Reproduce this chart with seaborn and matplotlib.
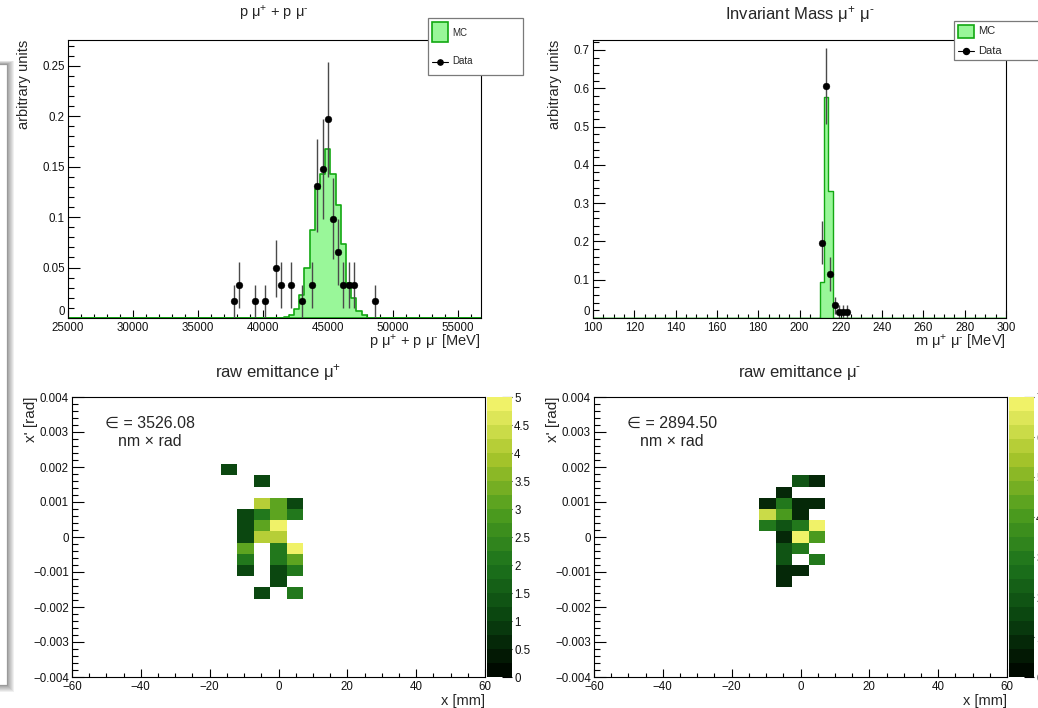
import numpy as np
import pandas as pd
import matplotlib
matplotlib.use("Agg")
import matplotlib.pyplot as plt
import seaborn as sns
from matplotlib.colors import LinearSegmentedColormap, ListedColormap
from matplotlib.patches import Rectangle
from matplotlib.lines import Line2D
from matplotlib.ticker import MultipleLocator, FuncFormatter

# ---------------- data ----------------
n_events = 61

# p mu+ + p mu-  (MeV), MC normalised histogram (bin centres, 400 MeV bins)
p_mc_centers = [41800, 42200, 42600, 43000, 43400, 43800, 44200, 44600, 45000,
                45400, 45800, 46200, 46600, 47000, 47400, 47800]
p_mc_values = [0.001, 0.0033, 0.0089, 0.023, 0.0495, 0.0874, 0.128, 0.143, 0.1676,
               0.143, 0.112, 0.0736, 0.0346, 0.0198, 0.0065, 0.0026]
# data: bin centres and event counts
p_data_centers = [37800, 38200, 39400, 40200, 41000, 41400, 42200, 43000, 43800,
                  44200, 44600, 45000, 45400, 45800, 46200, 46600, 47000, 48600]
p_data_counts = [1, 2, 1, 1, 3, 2, 2, 1, 2, 8, 9, 12, 6, 4, 2, 2, 2, 1]

# invariant mass (MeV), 2 MeV bins
m_mc_centers = [211, 213, 215]
m_mc_values = [0.093, 0.576, 0.331]
m_data_centers = [211, 213, 215, 217, 219, 221, 223]
m_data_counts = [12, 37, 7, 2, 1, 1, 1]

# raw emittance mu+ : cell centres (x [mm], x' [rad]) and counts
emit_plus_x = [-14.4, -4.8, -4.8, 0.0, 4.8, -9.6, -4.8, 0.0, 4.8, -9.6, -4.8, 0.0,
               -9.6, -4.8, 0.0, -9.6, 0.0, 4.8, -9.6, 0.0, 4.8, -9.6, 0.0, 4.8,
               0.0, -4.8, 4.8]
emit_plus_xp = [0.00192, 0.0016, 0.00096, 0.00096, 0.00096, 0.00064, 0.00064, 0.00064,
                0.00064, 0.00032, 0.00032, 0.00032, 0.0, 0.0, 0.0, -0.00032, -0.00032,
                -0.00032, -0.00064, -0.00064, -0.00064, -0.00096, -0.00096, -0.00096,
                -0.00128, -0.0016, -0.0016]
emit_plus_counts = [1, 1, 4, 3, 1, 1, 2, 3, 2, 1, 3, 5, 1, 4, 4, 3, 2, 5, 2, 2, 3,
                    1, 1, 2, 1, 1, 2]

# raw emittance mu-
emit_minus_x = [0.0, 4.8, -4.8, -9.6, -4.8, 0.0, 4.8, -9.6, -4.8, 0.0, -9.6, -4.8,
                0.0, 4.8, -4.8, 0.0, 4.8, -4.8, 0.0, -4.8, 4.8, -4.8, 0.0, -4.8]
emit_minus_xp = [0.0016, 0.0016, 0.00128, 0.00096, 0.00096, 0.00096, 0.00096,
                 0.00064, 0.00064, 0.00064, 0.00032, 0.00032, 0.00032, 0.00032,
                 0.0, 0.0, 0.0, -0.00032, -0.00032, -0.00064, -0.00064, -0.00096,
                 -0.00096, -0.00128]
emit_minus_counts = [2, 1, 1, 1, 3, 1, 1, 6, 4, 1, 3, 2, 3, 7, 1, 7, 4, 2, 3, 2, 3,
                     1, 1, 1]

emit_plus_value = "3526.08"
emit_minus_value = "2894.50"

# ---------------- style ----------------
sns.set_theme(style="ticks")
plt.rcParams["font.family"] = ["Liberation Sans", "DejaVu Sans"]
plt.rcParams["mathtext.fontset"] = "custom"
plt.rcParams["mathtext.rm"] = "Liberation Sans"
plt.rcParams["mathtext.it"] = "Liberation Sans:italic"
plt.rcParams["mathtext.bf"] = "Liberation Sans:bold"
plt.rcParams["mathtext.fallback"] = "stixsans"
plt.rcParams["axes.unicode_minus"] = True

MC_FILL = "#99f799"
MC_LINE = "#12a812"
W, H = 1038, 708
MUP = "μ$^{+}$"
MUM = "μ$^{\u2010}$"
TICK_FS = 8.3

fig = plt.figure(figsize=(W / 100, H / 100), dpi=100)
fig.patch.set_facecolor("white")


def rect(x0, y0, x1, y1):
    return [x0 / W, 1 - y1 / H, (x1 - x0) / W, (y1 - y0) / H]


def fx(px):
    return px / W


def fy(py):
    return 1 - py / H


def fmt(v, pos):
    if abs(v) < 1e-12:
        return "0"
    return f"{v:g}".replace("-", "\u2212")


def fmt_nozero(v, pos):
    if abs(v) < 1e-12:
        return ""
    return fmt(v, pos)


def root_axes(ax, w_px, h_px, xmaj, xmin, ymaj, ymin, raised_zero=False):
    ax.set_facecolor("white")
    ax.xaxis.set_major_locator(MultipleLocator(xmaj))
    ax.xaxis.set_minor_locator(MultipleLocator(xmin))
    ax.yaxis.set_major_locator(MultipleLocator(ymaj))
    ax.yaxis.set_minor_locator(MultipleLocator(ymin))
    ax.xaxis.set_major_formatter(FuncFormatter(fmt))
    ax.yaxis.set_major_formatter(FuncFormatter(fmt_nozero if raised_zero else fmt))
    ax.tick_params(which="both", direction="in", top=False, right=False,
                   color="black", width=0.8, labelsize=TICK_FS, labelcolor="#111111")
    ax.tick_params(axis="y", which="major", length=0.03 * w_px * 0.72, pad=2.2)
    ax.tick_params(axis="y", which="minor", length=0.015 * w_px * 0.72)
    ax.tick_params(axis="x", which="major", length=0.03 * h_px * 0.72, pad=3)
    ax.tick_params(axis="x", which="minor", length=0.015 * h_px * 0.72)
    for s in ax.spines.values():
        s.set_visible(True)
        s.set_color("black")
        s.set_linewidth(0.8)
    ax.grid(False)
    if raised_zero:
        # ROOT draws the "0" of the y axis slightly raised at the frame corner
        ax.annotate("0", xy=(0, 0), xycoords="axes fraction", xytext=(-2.2, 0.2),
                    textcoords="offset points", ha="right", va="bottom",
                    fontsize=TICK_FS, color="#111111")


def labels(ax, xlabel, ylabel, ylab_x_px, ax_x0, w_px, h_px, xfs, yfs):
    ax.set_xlabel(xlabel, fontsize=xfs)
    ax.xaxis.set_label_coords(1.0, -24 / h_px)
    ax.xaxis.label.set_ha("right")
    ax.xaxis.label.set_va("center")
    ax.set_ylabel(ylabel, fontsize=yfs)
    ax.yaxis.set_label_coords((ylab_x_px - ax_x0) / w_px, 1.0)
    ax.yaxis.label.set_rotation_mode("default")
    ax.yaxis.label.set_va("top")
    ax.yaxis.label.set_ha("center")


# ---------------- left-edge window artifact ----------------
for k in range(7, 0, -1):
    fig.add_artist(Rectangle((fx(-20), fy(685 + k)), (27 + k) / W, (621 + 1.5 * k) / H,
                             transform=fig.transFigure, facecolor="black",
                             edgecolor="none", alpha=0.06, zorder=0.1))
fig.add_artist(Rectangle((fx(-20), fy(685)), 27 / W, 621 / H, transform=fig.transFigure,
                         facecolor="white", edgecolor="#9a9a9a", linewidth=0.9, zorder=0.2))

# ---------------- top-left: momentum sum ----------------
ax1 = fig.add_axes(rect(68, 40, 481, 318))
p_edges = [float(e) for e in np.arange(24800, 56801, 400)]
df_pmc = pd.DataFrame({"p": p_mc_centers, "w": p_mc_values})
sns.histplot(data=df_pmc, x="p", weights="w", bins=p_edges, element="step", fill=True,
             facecolor=MC_FILL, edgecolor=MC_LINE, linewidth=1.2, ax=ax1)
p_vals = np.array(p_data_counts) / n_events
p_err = np.sqrt(p_data_counts) / n_events
ax1.errorbar(p_data_centers, p_vals, yerr=p_err, fmt="none", ecolor="#4a4a4a",
             elinewidth=1.0, capsize=0, zorder=3)
sns.scatterplot(x=p_data_centers, y=p_vals, color="black", s=24, edgecolor="black",
                linewidth=0.3, ax=ax1, zorder=4, legend=False)
ax1.set_xlim(25000, 56800)
ax1.set_ylim(0, 0.2755)
root_axes(ax1, 413, 278, 5000, 1000, 0.05, 0.01, raised_zero=True)
labels(ax1, f"p {MUP} + p {MUM} [MeV]", "arbitrary units", 24, 68, 413, 278, 10.5, 10.5)

# ---------------- top-right: invariant mass ----------------
ax2 = fig.add_axes(rect(593, 40, 1006, 318))
m_edges = [float(e) for e in np.arange(100, 301, 2)]
df_mmc = pd.DataFrame({"m": m_mc_centers, "w": m_mc_values})
sns.histplot(data=df_mmc, x="m", weights="w", bins=m_edges, element="step", fill=True,
             facecolor=MC_FILL, edgecolor=MC_LINE, linewidth=1.0, ax=ax2)
m_vals = np.array(m_data_counts) / n_events
m_err = np.sqrt(m_data_counts) / n_events
ax2.errorbar(m_data_centers, m_vals, yerr=m_err, fmt="none", ecolor="#4a4a4a",
             elinewidth=1.0, capsize=0, zorder=3)
sns.scatterplot(x=m_data_centers, y=m_vals, color="black", s=24, edgecolor="black",
                linewidth=0.3, ax=ax2, zorder=4, legend=False)
ax2.set_xlim(100, 300)
ax2.set_ylim(0, 0.726)
root_axes(ax2, 413, 278, 20, 5, 0.1, 0.02, raised_zero=True)
labels(ax2, f"m {MUP} {MUM} [MeV]", "arbitrary units", 555, 593, 413, 278, 10.5, 10.5)

# ---------------- emittance colour map ----------------
base = LinearSegmentedColormap.from_list(
    "avocado", ["#000a00", "#0a4510", "#1d741c", "#4f9e1e", "#a6c42a", "#f0f268"],
    N=256)
root_cmap = ListedColormap([base(i / 19) for i in range(20)])


def emittance(ax, cax, xs, xps, ns, vmax, cticks):
    df = pd.DataFrame({"x": xs, "xp": xps, "n": ns})
    sns.histplot(data=df, x="x", y="xp", weights="n", bins=25,
                 binrange=((-60, 60), (-0.004, 0.004)), cmap=root_cmap,
                 vmin=0, vmax=vmax, cbar=True, cbar_ax=cax,
                 cbar_kws={"ticks": cticks}, ax=ax)
    ax.set_xlim(-60, 60)
    ax.set_ylim(-0.004, 0.004)
    root_axes(ax, 413, 280, 20, 5, 0.001, 0.0002)
    cax.yaxis.set_ticks_position("right")
    cax.tick_params(axis="y", which="major", direction="in", length=7, width=0.8,
                    color="black", labelsize=TICK_FS, pad=1.5, labelcolor="#111111")
    cax.tick_params(axis="y", which="minor", length=0)
    cax.yaxis.set_major_formatter(FuncFormatter(fmt))
    for s in cax.spines.values():
        s.set_visible(False)


ax3 = fig.add_axes(rect(72, 397, 485, 677))
cax3 = fig.add_axes(rect(487, 397, 512, 677))
emittance(ax3, cax3, emit_plus_x, emit_plus_xp, emit_plus_counts, 5,
          [0, 0.5, 1, 1.5, 2, 2.5, 3, 3.5, 4, 4.5, 5])
labels(ax3, "x [mm]", "x' [rad]", 31, 72, 413, 280, 10.5, 11)

ax4 = fig.add_axes(rect(594, 397, 1007, 677))
cax4 = fig.add_axes(rect(1009, 397, 1034, 677))
emittance(ax4, cax4, emit_minus_x, emit_minus_xp, emit_minus_counts, 7,
          [0, 1, 2, 3, 4, 5, 6, 7])
labels(ax4, "x [mm]", "x' [rad]", 553, 594, 413, 280, 10.5, 11)

# ---------------- titles ----------------
fig.text(fx(274), fy(13), f"p {MUP} + p {MUM}", ha="center", va="center", fontsize=10.5)
fig.text(fx(800), fy(15), f"Invariant Mass {MUP} {MUM}", ha="center", va="center",
         fontsize=12)
fig.text(fx(278), fy(372), f"raw emittance {MUP}", ha="center", va="center", fontsize=12)
fig.text(fx(800), fy(372), f"raw emittance {MUM}", ha="center", va="center", fontsize=12)

# emittance values
fig.text(fx(150), fy(423.5), "\u2208 = " + emit_plus_value, ha="center", va="center",
         fontsize=11.5)
fig.text(fx(150), fy(442), "nm \u00d7 rad", ha="center", va="center", fontsize=11.5)
fig.text(fx(672), fy(423), "\u2208 = " + emit_minus_value, ha="center", va="center",
         fontsize=11.5)
fig.text(fx(672), fy(441), "nm \u00d7 rad", ha="center", va="center", fontsize=11.5)


# ---------------- legends ----------------
def legend_box(x0, y0, x1, y1, patch, mc_y, data_y, line_x0, line_x1, text_x, fs, ms):
    fig.add_artist(Rectangle((fx(x0), fy(y1)), (x1 - x0) / W, (y1 - y0) / H,
                             transform=fig.transFigure, facecolor="white",
                             edgecolor="#7a7a7a", linewidth=0.9, zorder=5))
    px0, py0, px1, py1 = patch
    fig.add_artist(Rectangle((fx(px0), fy(py1)), (px1 - px0) / W, (py1 - py0) / H,
                             transform=fig.transFigure, facecolor=MC_FILL,
                             edgecolor=MC_LINE, linewidth=1.2, zorder=6))
    fig.text(fx(text_x), fy(mc_y), "MC", ha="left", va="center", fontsize=fs, zorder=7)
    fig.add_artist(Line2D([fx(line_x0), fx(line_x1)], [fy(data_y), fy(data_y)],
                          transform=fig.transFigure, color="black", linewidth=0.8,
                          zorder=6))
    fig.add_artist(Line2D([fx((line_x0 + line_x1) / 2)], [fy(data_y)],
                          transform=fig.transFigure, color="black", marker="o",
                          markersize=ms, linestyle="none", zorder=7))
    fig.text(fx(text_x), fy(data_y), "Data", ha="left", va="center", fontsize=fs, zorder=7)


legend_box(428, 18, 523, 75, (432, 22.5, 448, 42), 33, 61.5, 432, 448, 452, 7, 3.8)
legend_box(954, 21, 1045, 60, (958, 25, 974, 38), 31, 50.7, 958, 974, 978, 8, 4.3)

fig.savefig("out.png", dpi=100, facecolor="white")
